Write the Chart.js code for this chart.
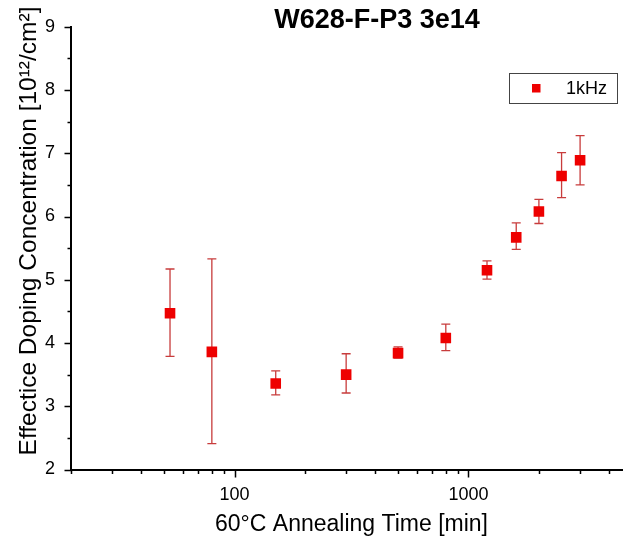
<!DOCTYPE html>
<html>
<head>
<meta charset="utf-8">
<script src="https://cdn.jsdelivr.net/npm/chart.js@4/dist/chart.umd.min.js"></script>
<style>
  html, body { margin: 0; padding: 0; background: #fff; overflow: hidden; }
</style>
</head>
<body>
<canvas id="chart" width="754" height="540"></canvas>
<script>
// annealing time [min] and doping concentration [1e12/cm2]
const times = [53, 80, 150, 300, 500, 800, 1200, 1600, 2000, 2500, 3000];
const doping = [4.47, 3.86, 3.36, 3.50, 3.84, 4.08, 5.15, 5.67, 6.08, 6.64, 6.89];
const errHigh = [5.17, 5.33, 3.56, 3.83, 3.94, 4.30, 5.30, 5.90, 6.27, 7.01, 7.28];
const errLow = [3.79, 2.41, 3.18, 3.21, 3.76, 3.88, 5.01, 5.48, 5.89, 6.30, 6.50];

const xTicks = [20, 30, 40, 50, 60, 70, 80, 90, 100, 200, 300, 400, 500, 600, 700, 800, 900, 1000, 2000, 3000, 4000, 5000];
const xLabels = [100, 1000];
const yTicks = [2, 2.5, 3, 3.5, 4, 4.5, 5, 5.5, 6, 6.5, 7, 7.5, 8, 8.5, 9];
const yLabels = [2, 3, 4, 5, 6, 7, 8, 9];

const chartTitle = 'W628-F-P3 3e14';
const yTitle = 'Effectice Doping Concentration [10¹²/cm²]';
const seriesName = '1kHz';
const FONT = 'Arial, "Liberation Sans", sans-serif';
const RED = 'rgb(238,0,0)';
const BAR = 'rgb(200,60,60)';

// error bars, drawn under the markers
const errorBars = {
  id: 'errorBars',
  beforeDatasetsDraw(chart) {
    const ctx = chart.ctx;
    const xs = chart.scales.x, ys = chart.scales.y;
    ctx.save();
    ctx.strokeStyle = BAR;
    ctx.lineWidth = 1.3;
    times.forEach((t, i) => {
      const px = xs.getPixelForValue(t);
      const top = ys.getPixelForValue(errHigh[i]);
      const bot = ys.getPixelForValue(errLow[i]);
      ctx.beginPath();
      ctx.moveTo(px, top); ctx.lineTo(px, bot);
      ctx.moveTo(px - 4.5, top); ctx.lineTo(px + 4.5, top);
      ctx.moveTo(px - 4.5, bot); ctx.lineTo(px + 4.5, bot);
      ctx.stroke();
    });
    ctx.restore();
  }
};

// outward axis ticks (longer on labelled values), titles and legend box
const decorations = {
  id: 'decorations',
  afterDraw(chart) {
    const ctx = chart.ctx;
    const xs = chart.scales.x, ys = chart.scales.y;
    const area = chart.chartArea;
    ctx.save();
    ctx.strokeStyle = '#000';
    ctx.lineWidth = 1.5;
    ctx.beginPath();
    xTicks.forEach(v => {
      const px = Math.round(xs.getPixelForValue(v)) + 0.5;
      const len = xLabels.includes(v) ? 8 : 4.5;
      ctx.moveTo(px, area.bottom); ctx.lineTo(px, area.bottom + len);
    });
    yTicks.forEach(v => {
      const py = Math.round(ys.getPixelForValue(v)) + 0.5;
      const len = yLabels.includes(v) ? 6.5 : 3.5;
      ctx.moveTo(area.left, py); ctx.lineTo(area.left - len, py);
    });
    ctx.stroke();

    ctx.fillStyle = '#000';
    ctx.textBaseline = 'middle';
    ctx.textAlign = 'center';
    ctx.font = 'bold 27px ' + FONT;
    ctx.fillText(chartTitle, 377, 21);

    ctx.save();
    ctx.translate(29, 231);
    ctx.rotate(-Math.PI / 2);
    ctx.font = '24.5px ' + FONT;
    ctx.fillText(yTitle, 0, 0);
    ctx.restore();

    // legend
    ctx.lineWidth = 1;
    ctx.strokeStyle = '#444';
    ctx.strokeRect(509.5, 73.5, 108, 30);
    ctx.fillStyle = RED;
    ctx.fillRect(532, 84, 8.5, 8.5);
    ctx.fillStyle = '#000';
    ctx.font = '18px ' + FONT;
    ctx.textAlign = 'left';
    ctx.fillText(chart.data.datasets[0].label, 566, 89);
    ctx.restore();
  }
};

new Chart(document.getElementById('chart'), {
  type: 'scatter',
  data: {
    datasets: [{
      label: seriesName,
      data: times.map((t, i) => ({ x: t, y: doping[i] })),
      pointStyle: 'rect',
      pointRadius: 7.5,
      pointHoverRadius: 7.5,
      backgroundColor: RED,
      borderColor: RED,
      borderWidth: 0
    }]
  },
  options: {
    responsive: false,
    animation: false,
    layout: { padding: { top: 15.7, right: 122, bottom: 0, left: 0 } },
    plugins: {
      legend: { display: false },
      tooltip: { enabled: false },
      title: { display: false }
    },
    scales: {
      x: {
        type: 'logarithmic',
        min: 20,
        max: 5000,
        afterBuildTicks: s => { s.ticks = xTicks.map(v => ({ value: v })); },
        afterFit: s => { s.height = 70.5; },
        grid: { display: true, drawOnChartArea: false, drawTicks: false },
        border: { display: true, color: '#000', width: 2 },
        ticks: {
          autoSkip: false,
          maxRotation: 0,
          padding: 15,
          color: '#000',
          font: { family: FONT, size: 18 },
          callback: v => xLabels.includes(v) ? String(v) : ''
        },
        title: {
          display: true,
          text: '60°C Annealing Time [min]',
          color: '#000',
          font: { family: FONT, size: 23 },
          padding: { top: 0, bottom: 1.5 }
        }
      },
      y: {
        min: 2,
        max: 9,
        afterBuildTicks: s => { s.ticks = yTicks.map(v => ({ value: v })); },
        afterFit: s => { s.width = 71; },
        grid: { display: true, drawOnChartArea: false, drawTicks: false },
        border: { display: true, color: '#000', width: 2 },
        ticks: {
          autoSkip: false,
          padding: 16,
          color: '#000',
          font: { family: FONT, size: 18 },
          callback: v => yLabels.includes(v) ? String(v) : ''
        }
      }
    }
  },
  plugins: [errorBars, decorations]
});
</script>
</body>
</html>
